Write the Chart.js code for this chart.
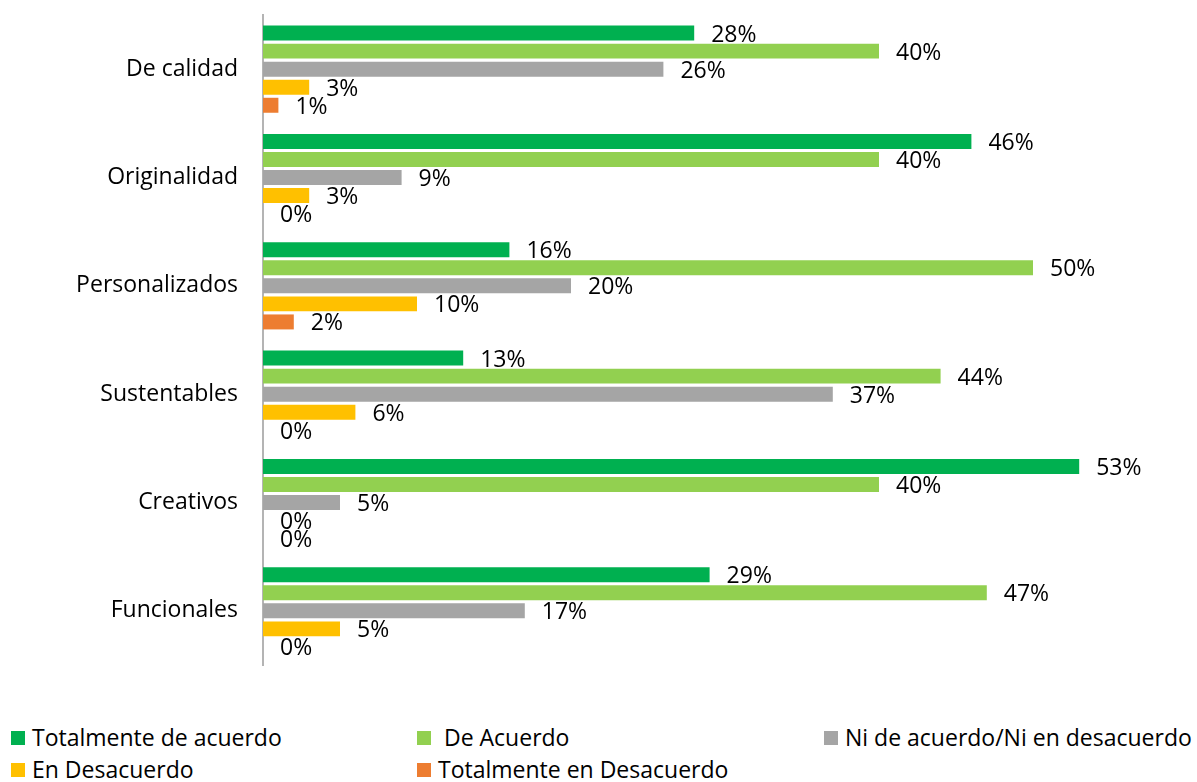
<!DOCTYPE html>
<html lang="es">
<head>
<meta charset="utf-8">
<title>Valoración de productos</title>
<script src="https://cdn.jsdelivr.net/npm/chart.js@4.4.1/dist/chart.umd.min.js"></script>
<style>
  body { margin: 0; background: #fff; font-family: 'Open Sans', sans-serif; }
  #wrap { position: relative; width: 1197px; height: 782px; }
  #chartBox { position: absolute; left: 0; top: 0; width: 1197px; height: 700px; }
  .leyenda { position: absolute; font-size: 23px; color: #000; line-height: 26px; white-space: pre; }
  .leyenda span.sq { display: inline-block; width: 14px; height: 14px; margin-right: 7px; vertical-align: 1px; }
</style>
</head>
<body>
<div id="wrap">
  <div id="chartBox"><canvas id="chartEncuesta"></canvas></div>
  <div id="leyenda"></div>
</div>
<script>
// Datos (porcentajes)
const categorias = ['De calidad', 'Originalidad', 'Personalizados', 'Sustentables', 'Creativos', 'Funcionales'];
const totalmenteAcuerdo = [28, 46, 16, 13, 53, 29];
const deAcuerdo = [40, 40, 50, 44, 40, 47];
const niNi = [26, 9, 20, 37, 5, 17];
const enDesacuerdo = [3, 3, 10, 6, 0, 5];
const totalmenteDesacuerdo = [1, 0, 2, 0, 0, 0];

const series = [
    { label: 'Totalmente de acuerdo', data: totalmenteAcuerdo, color: '#00B050' },
    { label: ' De Acuerdo', data: deAcuerdo, color: '#92D050' },
    { label: 'Ni de acuerdo/Ni en desacuerdo', data: niNi, color: '#A5A5A5' },
    { label: 'En Desacuerdo', data: enDesacuerdo, color: '#FFC000' },
    { label: 'Totalmente en Desacuerdo', data: totalmenteDesacuerdo, color: '#ED7D31' }
];

// Etiquetas de valor al final de cada barra
const etiquetasValor = {
    id: 'etiquetasValor',
    afterDatasetsDraw(chart) {
        const ctx = chart.ctx;
        ctx.save();
        ctx.font = "23px 'Open Sans'";
        ctx.fillStyle = '#000';
        ctx.textAlign = 'left';
        ctx.textBaseline = 'middle';
        chart.data.datasets.forEach((ds, i) => {
            const meta = chart.getDatasetMeta(i);
            meta.data.forEach((bar, j) => {
                ctx.fillText(ds.data[j] + '%', bar.x + 17, bar.y + 2);
            });
        });
        ctx.restore();
    }
};

new Chart(document.getElementById('chartEncuesta'), {
    type: 'bar',
    data: {
        labels: categorias,
        datasets: series.map(s => ({
            label: s.label,
            data: s.data,
            backgroundColor: s.color,
            borderWidth: 0,
            categoryPercentage: 0.833,
            barPercentage: 0.83
        }))
    },
    options: {
        indexAxis: 'y',
        responsive: true,
        maintainAspectRatio: false,
        animation: false,
        layout: { padding: { top: 15, bottom: 35, left: 0, right: 10 } },
        scales: {
            x: {
                display: false,
                min: 0,
                max: 60
            },
            y: {
                afterFit: s => {
                    s.width = 263;
                    s.paddingTop = 0;
                    s.paddingBottom = 0;
                },
                grid: { display: false, drawTicks: false },
                border: { display: true, color: '#B4B4B4', width: 2 },
                ticks: {
                    padding: 25,
                    color: '#000',
                    font: { family: "'Open Sans'", size: 23 }
                }
            }
        },
        plugins: {
            legend: { display: false },
            tooltip: { enabled: false }
        }
    },
    plugins: [etiquetasValor]
});

// Leyenda en tres columnas debajo del gráfico
const posLeyenda = [[11, 724], [417, 724], [824, 724], [11, 756], [417, 756]];
const cont = document.getElementById('leyenda');
series.forEach((s, i) => {
    const d = document.createElement('div');
    d.className = 'leyenda';
    d.style.left = posLeyenda[i][0] + 'px';
    d.style.top = posLeyenda[i][1] + 'px';
    d.innerHTML = '<span class="sq" style="background:' + s.color + '"></span>' + s.label;
    cont.appendChild(d);
});
</script>
</body>
</html>
